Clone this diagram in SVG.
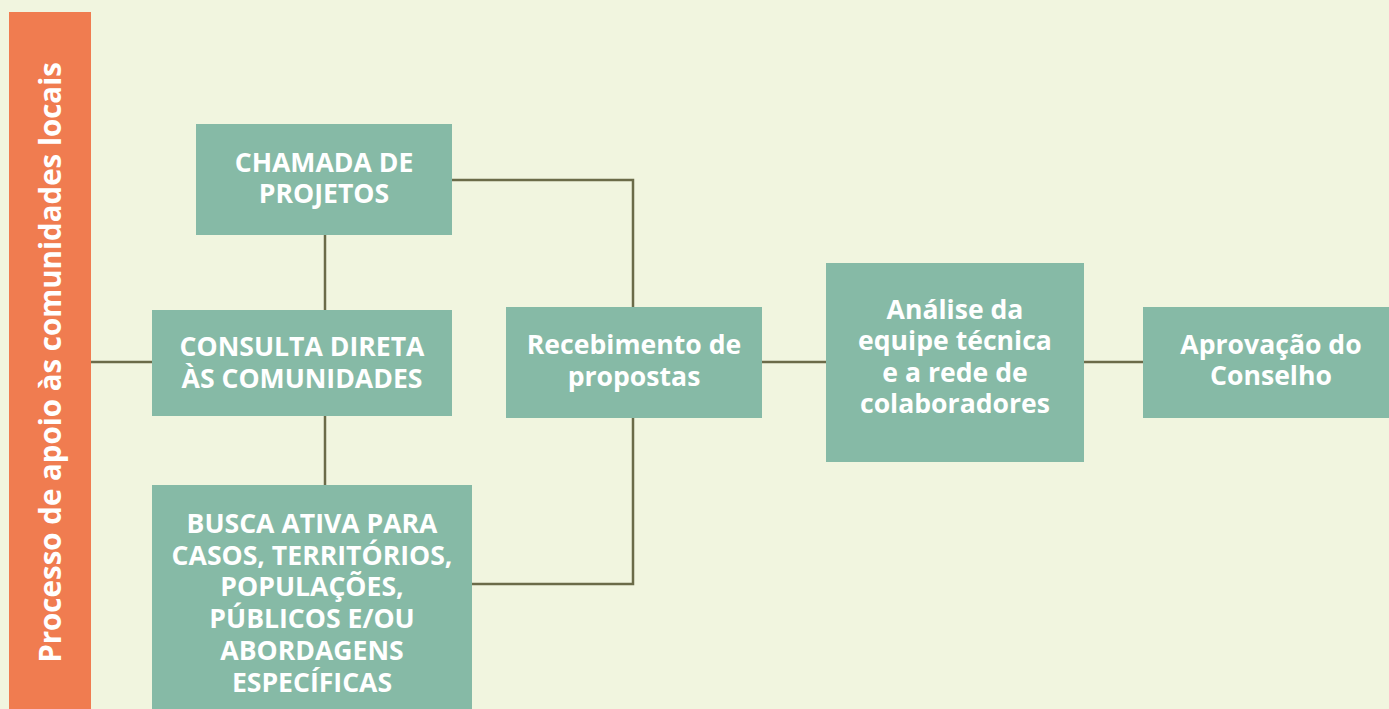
<svg xmlns="http://www.w3.org/2000/svg" width="1389" height="709" viewBox="0 0 1389 709">
<style>
.box{fill:#86BAA6}
.t{font-family:"Open Sans","Noto Sans","Liberation Sans",sans-serif;font-weight:700;font-size:26.6px;fill:#FFFFFF;text-anchor:middle}
.v{font-size:29.5px}
.c{fill:none;stroke:#6B6B48;stroke-width:2.5}
</style>
<rect x="0" y="0" width="1389" height="709" fill="#F1F5DF"/>
<g id="side">
<rect x="9" y="12" width="82" height="697" fill="#F07C50"/>
<text class="t v" transform="translate(60.5,362.5) rotate(-90)">Processo de apoio às comunidades locais</text>
</g>
<g id="connectors">
<line class="c" x1="91" y1="362" x2="152" y2="362"/>
<line class="c" x1="325" y1="235" x2="325" y2="310"/>
<line class="c" x1="325" y1="416" x2="325" y2="485"/>
<polyline class="c" points="452,180 633,180 633,307"/>
<polyline class="c" points="472,584 633,584 633,418"/>
<line class="c" x1="762" y1="362" x2="826" y2="362"/>
<line class="c" x1="1084" y1="362" x2="1143" y2="362"/>
</g>
<g id="chamada">
<rect class="box" x="196" y="124" width="256" height="111"/>
<text class="t" y="171.5"><tspan x="324">CHAMADA DE</tspan><tspan x="324" dy="31">PROJETOS</tspan></text>
</g>
<g id="consulta">
<rect class="box" x="152" y="310" width="300" height="106"/>
<text class="t" y="356"><tspan x="302">CONSULTA DIRETA</tspan><tspan x="302" dy="32">ÀS COMUNIDADES</tspan></text>
</g>
<g id="busca">
<rect class="box" x="152" y="485" width="320" height="224"/>
<text class="t" y="533"><tspan x="312">BUSCA ATIVA PARA</tspan><tspan x="312" dy="31.7">CASOS, TERRITÓRIOS,</tspan><tspan x="312" dy="31.7">POPULAÇÕES,</tspan><tspan x="312" dy="31.7">PÚBLICOS E/OU</tspan><tspan x="312" dy="31.7">ABORDAGENS</tspan><tspan x="312" dy="31.7">ESPECÍFICAS</tspan></text>
</g>
<g id="recebimento">
<rect class="box" x="506" y="307" width="256" height="111"/>
<text class="t" y="353.5"><tspan x="634">Recebimento de</tspan><tspan x="634" dy="32">propostas</tspan></text>
</g>
<g id="analise">
<rect class="box" x="826" y="263" width="258" height="199"/>
<text class="t" y="318.5"><tspan x="955">Análise da</tspan><tspan x="955" dy="31.6">equipe técnica</tspan><tspan x="955" dy="31.6">e a rede de</tspan><tspan x="955" dy="31.6">colaboradores</tspan></text>
</g>
<g id="aprovacao">
<rect class="box" x="1143" y="307" width="246" height="111"/>
<text class="t" y="353.5"><tspan x="1271">Aprovação do</tspan><tspan x="1271" dy="31">Conselho</tspan></text>
</g>
</svg>
